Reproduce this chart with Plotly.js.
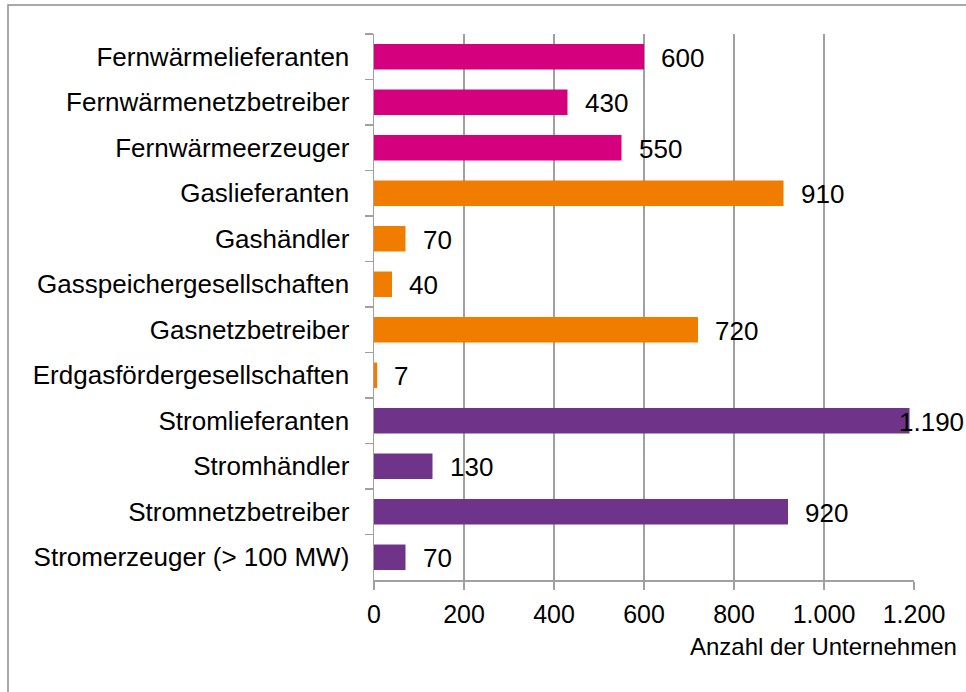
<!DOCTYPE html>
<html>
<head>
<meta charset="utf-8">
<script src="https://cdn.plot.ly/plotly-3.0.1.min.js"></script>
<style>
html,body{margin:0;padding:0;background:#fff;}
#chart{width:966px;height:692px;}
</style>
</head>
<body>
<div id="chart"></div>
<script>
// Categories top to bottom
const categories = [
  "Fernwärmelieferanten",
  "Fernwärmenetzbetreiber",
  "Fernwärmeerzeuger",
  "Gaslieferanten",
  "Gashändler",
  "Gasspeichergesellschaften",
  "Gasnetzbetreiber",
  "Erdgasfördergesellschaften",
  "Stromlieferanten",
  "Stromhändler",
  "Stromnetzbetreiber",
  "Stromerzeuger (> 100 MW)"
];
const values = [600, 430, 550, 910, 70, 40, 720, 7, 1190, 130, 920, 70];
const sectors = ["Fernwärme","Fernwärme","Fernwärme","Gas","Gas","Gas","Gas","Gas","Strom","Strom","Strom","Strom"];
const sectorColors = {Fernwärme: "#D5007D", Gas: "#F07D00", Strom: "#6F3489"};
const xTickVals = [0, 200, 400, 600, 800, 1000, 1200];
const xTickText = ["0", "200", "400", "600", "800", "1.000", "1.200"];
const xAxisTitle = "Anzahl der Unternehmen";

function fmt(v){ return String(v).replace(/\B(?=(\d{3})+(?!\d))/g, "."); }

const FONT = "Liberation Sans, Arial, sans-serif";
const W = 966, H = 692;
const margin = {l: 374, r: 52, t: 34, b: 112};
const plotW = W - margin.l - margin.r;
const xMax = 1200;
const labelSize = 26;

const trace = {
  type: "bar",
  orientation: "h",
  y: categories,
  x: values,
  marker: {color: sectors.map(s => sectorColors[s])},
  hoverinfo: "none",
  width: 0.56
};

// data labels, shifted left if they would leave the chart area (like Excel)
const annotations = values.map((v, i) => {
  const label = fmt(v);
  const px = margin.l + v / xMax * plotW;
  let textW = 0;
  for (const ch of label) textW += (ch === "." ? 0.278 : 0.556) * labelSize;
  let shift = 15;
  const limit = 964;
  if (px + shift + textW > limit) shift = limit - textW - px - 2;
  return {
    x: v, y: categories[i], xref: "x", yref: "y",
    text: label, showarrow: false, xanchor: "left", yanchor: "middle",
    xshift: shift, yshift: -1,
    font: {family: FONT, size: labelSize, color: "#000"}
  };
});
annotations.push({
  xref: "paper", yref: "paper", x: 1, y: 0, xanchor: "right", yanchor: "middle",
  xshift: 45, yshift: -66, showarrow: false, text: xAxisTitle,
  font: {family: FONT, size: 24, color: "#000"}
});

const layout = {
  width: W, height: H,
  margin: margin,
  paper_bgcolor: "#fff",
  plot_bgcolor: "#fff",
  showlegend: false,
  bargap: 0.43,
  font: {family: FONT, color: "#000"},
  xaxis: {
    range: [0, xMax],
    tickvals: xTickVals,
    ticktext: xTickText,
    showgrid: true,
    gridcolor: "#A0A0A0",
    gridwidth: 1.5,
    showline: true,
    linecolor: "#A0A0A0",
    linewidth: 1.5,
    ticks: "outside",
    ticklen: 8,
    tickcolor: "#A0A0A0",
    tickwidth: 1.5,
    ticklabelstandoff: 3,
    tickfont: {size: 25, color: "#000"},
    zeroline: false,
    fixedrange: true
  },
  yaxis: {
    type: "category",
    autorange: "reversed",
    showline: true,
    linecolor: "#A0A0A0",
    linewidth: 1.5,
    ticks: "outside",
    tickson: "boundaries",
    ticklen: 8,
    tickcolor: "#A0A0A0",
    tickwidth: 1.5,
    showgrid: false,
    ticklabelstandoff: 18,
    tickfont: {size: 26, color: "#000"},
    fixedrange: true
  },
  annotations: annotations,
  shapes: [{
    type: "rect", xref: "paper", yref: "paper",
    x0: (8 - margin.l) / plotW,
    x1: (975 - margin.l) / plotW,
    y0: -0.3,
    y1: (H - margin.b - 5) / (H - margin.t - margin.b),
    line: {color: "#8C8C8C", width: 1.5},
    fillcolor: "rgba(0,0,0,0)",
    layer: "below"
  }]
};

Plotly.newPlot("chart", [trace], layout, {displayModeBar: false, staticPlot: true});
</script>
</body>
</html>
